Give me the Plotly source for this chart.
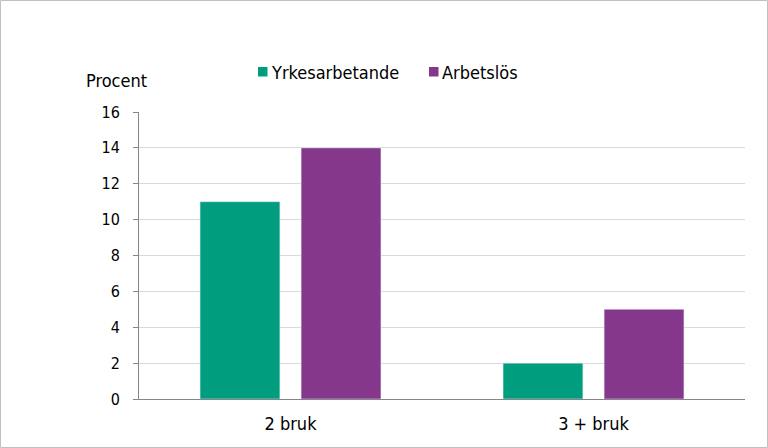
import plotly.graph_objects as go

categories = ["2 bruk", "3 + bruk"]
series_names = ["Yrkesarbetande", "Arbetslös"]
series_colors = ["#009E7E", "#84378B"]
yrkes = [11, 2]
arbetslos = [14, 5]
y_ticks = [0, 2, 4, 6, 8, 10, 12, 14, 16]

W, H = 768, 448
L, R, T, B = 139, 23, 112, 49
pw, ph = W - L - R, H - T - B


def px(x):
    return (x - L) / pw


def py(y):
    return (H - B - y) / ph


font = "DejaVu Sans Condensed, DejaVu Sans, sans-serif"

fig = go.Figure()
fig.add_bar(x=categories, y=yrkes, name=series_names[0], marker_color=series_colors[0],
            showlegend=False)
fig.add_bar(x=categories, y=arbetslos, name=series_names[1], marker_color=series_colors[1],
            showlegend=False)

# legend (drawn as small squares + text)
legend_items = [(258, series_names[0], series_colors[0]), (429, series_names[1], series_colors[1])]
shapes = [dict(type="rect", xref="paper", yref="paper",
               x0=px(0.5), x1=px(W - 0.5), y0=py(H - 0.5), y1=py(0.5),
               line=dict(color="#BFBFBF", width=1), layer="below")]
annotations = [dict(text="Procent", xref="paper", yref="paper",
                    x=px(116), y=py(80), xanchor="center", yanchor="middle",
                    showarrow=False, font=dict(size=18))]
for x0, name, col in legend_items:
    shapes.append(dict(type="rect", xref="paper", yref="paper",
                       x0=px(x0), x1=px(x0 + 9.5), y0=py(76.5), y1=py(67),
                       fillcolor=col, line=dict(width=0)))
    annotations.append(dict(text=name, xref="paper", yref="paper",
                            x=px(x0 + 11), y=py(72), xanchor="left", yanchor="middle",
                            showarrow=False, font=dict(size=18)))

fig.update_layout(
    width=W, height=H,
    margin=dict(l=L, r=R, t=T, b=B),
    paper_bgcolor="white", plot_bgcolor="white",
    font=dict(family=font, size=18, color="#000000"),
    barmode="group", bargap=0.333, bargroupgap=0.21,
    showlegend=False,
    xaxis=dict(showline=True, linecolor="#868686", linewidth=1, ticks="",
               showgrid=False, ticklabelstandoff=8, tickfont=dict(size=18)),
    yaxis=dict(range=[0, 16], tickvals=y_ticks, showgrid=True, gridcolor="#D9D9D9",
               gridwidth=1, showline=True, linecolor="#868686", linewidth=1,
               ticks="outside", ticklen=5, tickcolor="#868686",
               ticklabelstandoff=10, zeroline=False, tickfont=dict(size=16)),
    annotations=annotations,
    shapes=shapes,
)

fig.write_html("out.html", config={"displayModeBar": False},
               post_script="document.body.style.margin='0';document.body.style.padding='0';")
